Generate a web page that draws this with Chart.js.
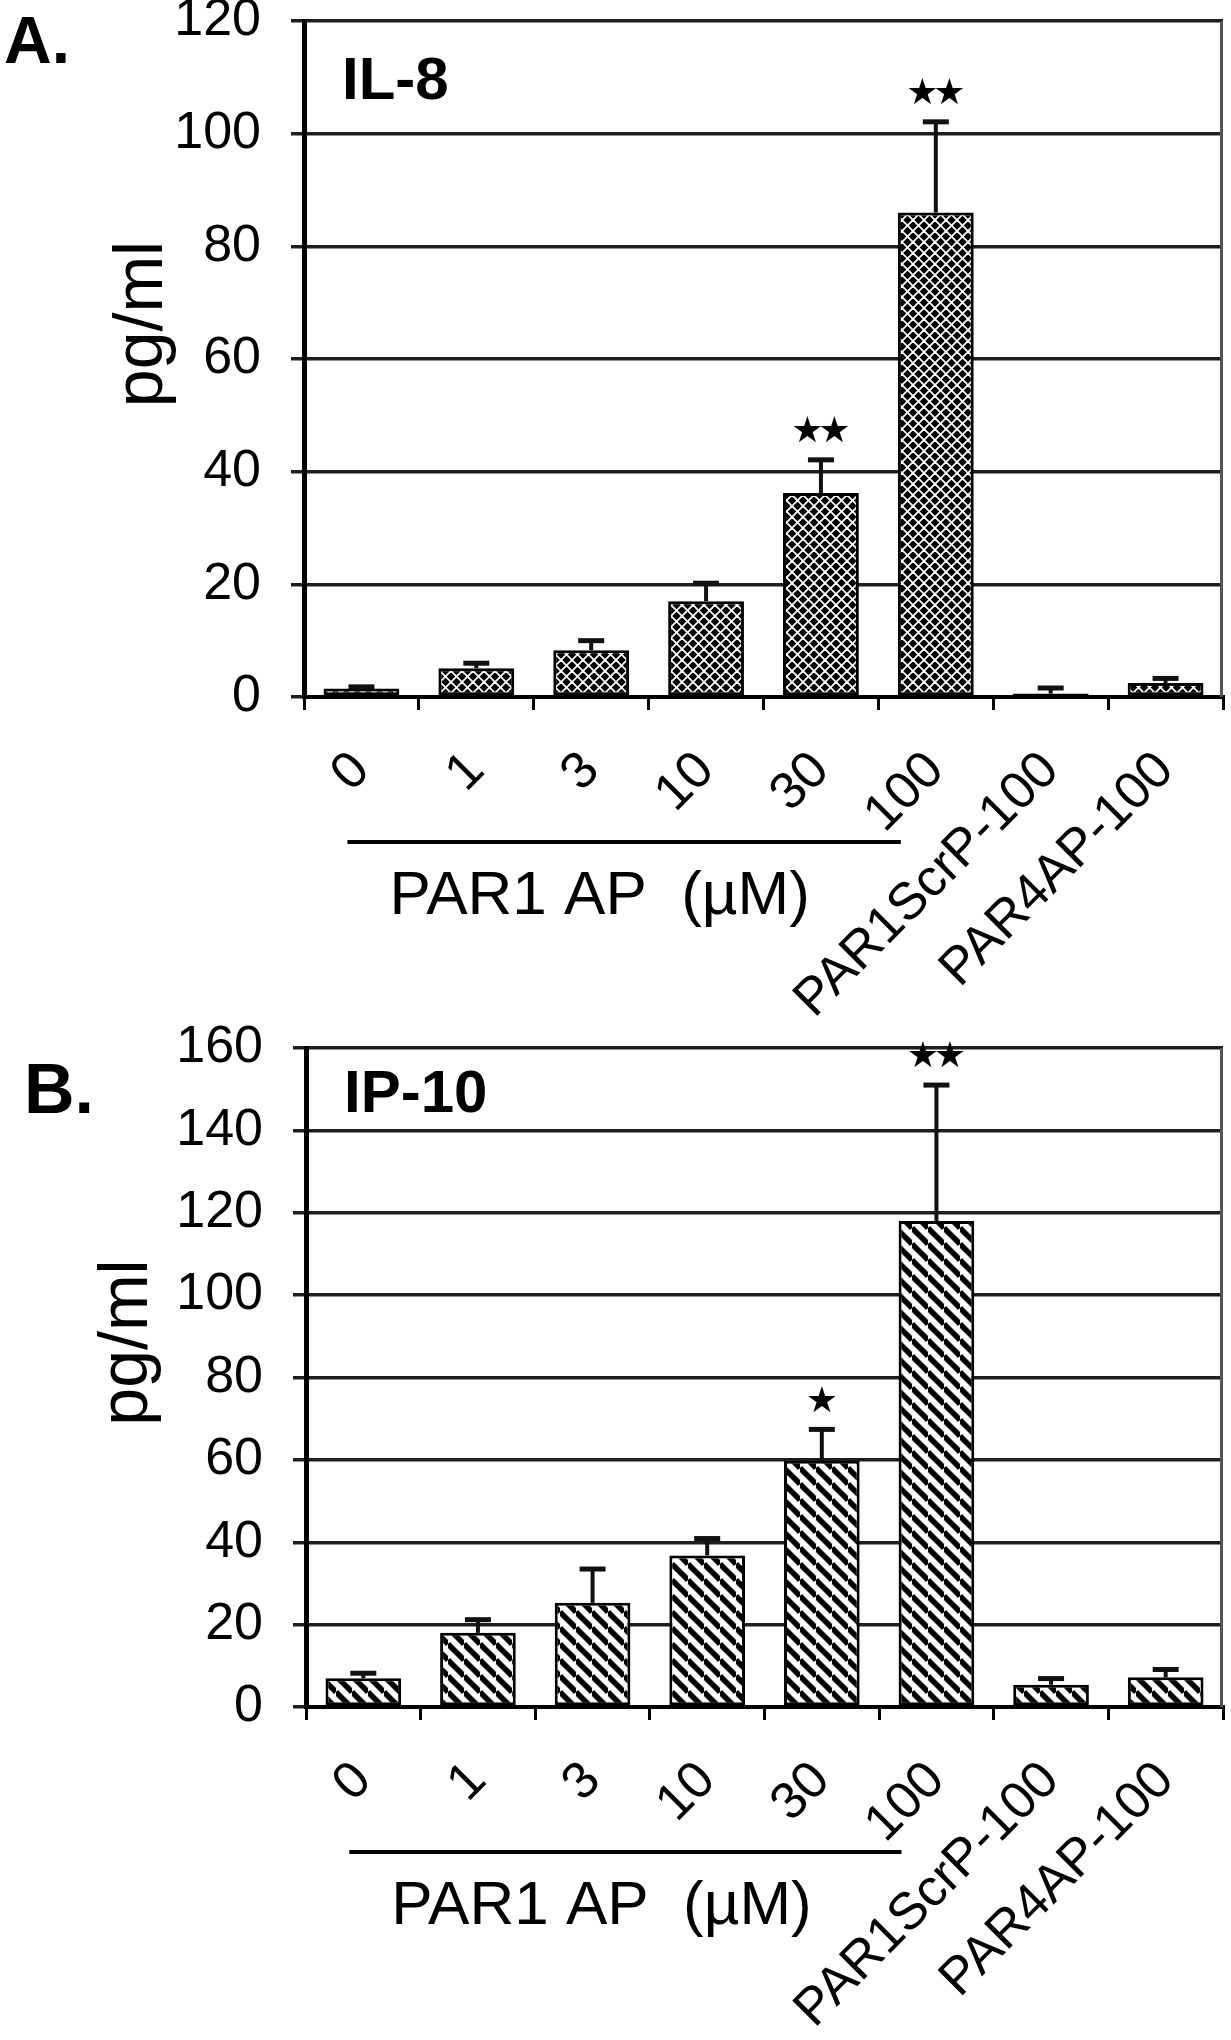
<!DOCTYPE html>
<html>
<head>
<meta charset="utf-8">
<script src="https://cdn.jsdelivr.net/npm/chart.js@4.4.1/dist/chart.umd.min.js"></script>
<style>
html, body { margin: 0; padding: 0; background: #ffffff; }
.wrap { position: relative; width: 1231px; height: 1020px; }
canvas { display: block; }
</style>
</head>
<body>
<div class="wrap"><canvas id="chartA" width="1231" height="1020"></canvas></div>
<div class="wrap"><canvas id="chartB" width="1231" height="1020"></canvas></div>
<script>
// ---------- data ----------
const categories = ['0', '1', '3', '10', '30', '100', 'PAR1ScrP-100', 'PAR4AP-100'];

const il8Values = [1.5, 5.1, 8.3, 17.0, 36.2, 86.0, 0.6, 2.5];
const il8Errors = [0.3, 0.9, 1.7, 3.2, 5.9, 16.1, 1.0, 0.8];
const il8Stars  = [0, 0, 0, 0, 2, 2, 0, 0];
const il8Ticks  = [0, 20, 40, 60, 80, 100, 120];

const ip10Values = [7.0, 18.0, 25.3, 36.8, 59.8, 118.0, 5.4, 7.2];
const ip10Errors = [1.2, 3.2, 8.2, 4.1, 7.6, 33.0, 1.5, 1.9];
const ip10Stars  = [0, 0, 0, 0, 1, 2, 0, 0];
const ip10Ticks  = [0, 20, 40, 60, 80, 100, 120, 140, 160];

const panelA = 'A.';
const panelB = 'B.';
const titleA = 'IL-8';
const titleB = 'IP-10';
const yTitle = 'pg/ml';
const groupLabel = 'PAR1 AP  (\u00b5M)';
const starChar = '\u2605';

const FONT = "'Liberation Sans', Arial, Helvetica, sans-serif";

// ---------- fill patterns ----------
function crossPattern() {
  const s = 11;
  const c = document.createElement('canvas');
  c.width = s; c.height = s;
  const g = c.getContext('2d');
  g.fillStyle = '#000';
  g.fillRect(0, 0, s, s);
  g.strokeStyle = '#fff';
  g.lineWidth = 1.8;
  for (const k of [-1, 0, 1]) {
    g.beginPath(); g.moveTo(0, k * s); g.lineTo(s, k * s + s); g.stroke();
    g.beginPath(); g.moveTo(0, k * s + s); g.lineTo(s, k * s); g.stroke();
  }
  return g.createPattern(c, 'repeat');
}
function hatchPattern() {
  const s = 16;
  const c = document.createElement('canvas');
  c.width = s; c.height = s;
  const g = c.getContext('2d');
  g.fillStyle = '#fff';
  g.fillRect(0, 0, s, s);
  g.strokeStyle = '#000';
  g.lineWidth = 5.5;
  for (const k of [-1, 0, 1]) {
    g.beginPath(); g.moveTo(0, k * s); g.lineTo(s, k * s + s); g.stroke();
  }
  return g.createPattern(c, 'repeat');
}

// ---------- decoration plugin (error bars, stars, texts) ----------
const decorPlugin = {
  id: 'decor',
  afterDraw(chart) {
    const d = chart.options.decorCfg;
    const { ctx, chartArea: ca } = chart;
    const xs = chart.scales.x, ys = chart.scales.y;
    const meta = chart.getDatasetMeta(0);
    ctx.save();

    // right frame line
    ctx.strokeStyle = '#555';
    ctx.lineWidth = 3;
    ctx.beginPath();
    ctx.moveTo(ca.right - 1.5, ca.top);
    ctx.lineTo(ca.right - 1.5, ca.bottom);
    ctx.stroke();

    // error bars + significance stars
    d.values.forEach((v, i) => {
      const bx = meta.data[i].x;
      const yb = ys.getPixelForValue(v);
      const yt = ys.getPixelForValue(v + d.errors[i]);
      ctx.strokeStyle = '#111';
      ctx.lineWidth = 4;
      ctx.beginPath(); ctx.moveTo(bx, yb); ctx.lineTo(bx, yt); ctx.stroke();
      ctx.lineWidth = 5;
      ctx.beginPath(); ctx.moveTo(bx - 13, yt); ctx.lineTo(bx + 13, yt); ctx.stroke();
      const n = d.stars[i];
      if (n > 0) {
        ctx.fillStyle = '#000';
        ctx.font = "36px 'DejaVu Sans', sans-serif";
        ctx.textAlign = 'center';
        ctx.textBaseline = 'middle';
        for (let k = 0; k < n; k++) {
          ctx.fillText(starChar, bx + (k - (n - 1) / 2) * 27, yt - 27);
        }
      }
    });

    ctx.fillStyle = '#000';
    ctx.textBaseline = 'alphabetic';
    ctx.textAlign = 'left';
    // panel letter
    ctx.font = 'bold ' + d.panelSize + 'px ' + FONT;
    ctx.fillText(d.panel, d.panelX, d.panelY);
    // in-plot title
    ctx.font = 'bold 60px ' + FONT;
    ctx.fillText(d.title, ca.left + 38, ca.top + d.titleDy);

    // y axis title
    ctx.save();
    ctx.translate(d.yTitleX, (ca.top + ca.bottom) / 2 - 35);
    ctx.rotate(-Math.PI / 2);
    ctx.font = '68px ' + FONT;
    ctx.textAlign = 'center';
    ctx.textBaseline = 'middle';
    ctx.fillText(yTitle, 0, 0);
    ctx.restore();

    // group underline + label
    const ux0 = xs.getPixelForValue(0) - 14;
    const ux1 = xs.getPixelForValue(5) - 35;
    const uy = ca.bottom + 145;
    ctx.strokeStyle = '#000';
    ctx.lineWidth = 4;
    ctx.beginPath(); ctx.moveTo(ux0, uy); ctx.lineTo(ux1, uy); ctx.stroke();
    ctx.font = '62px ' + FONT;
    ctx.textAlign = 'left';
    ctx.fillText(groupLabel, ux0 + 42, ca.bottom + 217);
    ctx.restore();
  }
};

function makeChart(id, cfg) {
  return new Chart(document.getElementById(id), {
    type: 'bar',
    data: {
      labels: categories,
      datasets: [{
        data: cfg.values,
        backgroundColor: cfg.pattern,
        borderColor: '#000',
        borderWidth: 3,
        borderSkipped: false,
        barPercentage: 0.66,
        categoryPercentage: 1.0
      }]
    },
    options: {
      responsive: false,
      animation: false,
      devicePixelRatio: 1,
      layout: { padding: { top: cfg.top, right: 8, left: 0, bottom: 0 } },
      plugins: { legend: { display: false }, tooltip: { enabled: false } },
      decorCfg: cfg,
      scales: {
        x: {
          offset: true,
          grid: { display: true, offset: true, drawOnChartArea: false, drawTicks: true, tickLength: 13, color: '#000', lineWidth: 3 },
          border: { display: true, color: '#000', width: 4 },
          ticks: {
            color: '#000',
            font: { family: FONT, size: 52 },
            minRotation: 45, maxRotation: 45,
            autoSkip: false,
            padding: 30,
            labelOffset: 0
          },
          afterFit: s => { s.height = cfg.xHeight; s.paddingLeft = 0; s.paddingRight = 0; }
        },
        y: {
          min: cfg.ticks[0],
          max: cfg.ticks[cfg.ticks.length - 1],
          afterBuildTicks: s => { s.ticks = cfg.ticks.map(v => ({ value: v })); },
          grid: { color: '#1e1e1e', lineWidth: 3.5, drawTicks: true, tickLength: 13 },
          border: { display: true, color: '#000', width: 5 },
          ticks: { color: '#000', font: { family: FONT, size: 52 }, padding: 30 },
          afterFit: s => { s.width = cfg.yWidth; s.paddingTop = 0; s.paddingBottom = 0; }
        }
      }
    },
    plugins: [decorPlugin]
  });
}

makeChart('chartA', {
  values: il8Values, errors: il8Errors, stars: il8Stars, ticks: il8Ticks,
  pattern: crossPattern(),
  top: 21, xHeight: 323, yWidth: 304,
  panel: panelA, panelSize: 66, panelX: 4, panelY: 63,
  title: titleA, titleDy: 78,
  yTitleX: 143
});

makeChart('chartB', {
  values: ip10Values, errors: ip10Errors, stars: ip10Stars, ticks: ip10Ticks,
  pattern: hatchPattern(),
  top: 28, xHeight: 333, yWidth: 306,
  panel: panelB, panelSize: 70, panelX: 24, panelY: 93,
  title: titleB, titleDy: 64,
  yTitleX: 128
});
</script>
</body>
</html>
